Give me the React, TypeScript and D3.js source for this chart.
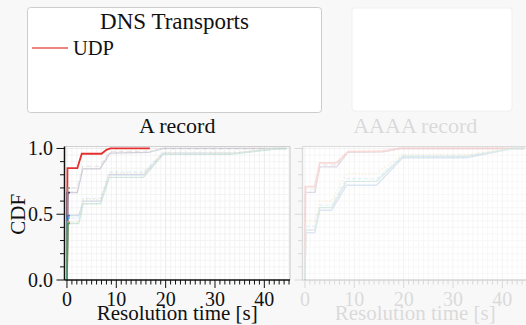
import React from "react";
import * as d3 from "d3";

type Pt = [number, number];

const W = 526;
const H = 325;

// A record — resolution time [s] vs CDF
const aUdp: Pt[] = [[0, 0], [0.1, 0.85], [2.1, 0.85], [3.0, 0.96], [7.0, 0.96], [8.0, 0.99], [8.8, 1], [16.8, 1]];
const aTcp: Pt[] = [[0, 0], [0.1, 0.665], [2.1, 0.665], [3.2, 0.845], [6.7, 0.845], [8.7, 0.965], [16.5, 0.97], [19.5, 1], [44.5, 1]];
const aTls: Pt[] = [[0, 0], [0.1, 0.7], [2.1, 0.7], [3.2, 0.865], [6.7, 0.865], [8.7, 0.975], [17, 0.98], [19.5, 1], [44.5, 1]];
const aDoh: Pt[] = [[0, 0], [0.1, 0.49], [2.4, 0.49], [3.3, 0.6], [6.8, 0.6], [8.6, 0.8], [15.5, 0.8], [19.5, 0.965], [34, 0.965], [42, 0.995], [44.5, 1]];
const aDoq: Pt[] = [[0, 0], [0.1, 0.47], [2.4, 0.47], [3.3, 0.62], [6.8, 0.62], [8.6, 0.82], [15.5, 0.82], [19.5, 0.97], [35, 0.97], [42, 1], [44.5, 1]];
const aDot: Pt[] = [[0, 0], [0.15, 0.43], [2.4, 0.43], [3.3, 0.58], [6.8, 0.58], [8.6, 0.78], [15.5, 0.78], [19.5, 0.955], [33, 0.955], [43, 1], [44.5, 1]];
const aH3: Pt[] = [[0, 0], [0.15, 0.44], [2.4, 0.44], [3.3, 0.61], [6.8, 0.61], [8.6, 0.81], [15.5, 0.81], [19.5, 0.97], [35, 0.97], [41, 1], [44.5, 1]];

// AAAA record
const bUdp: Pt[] = [[0, 0], [0.1, 0.71], [2.0, 0.71], [3.0, 0.89], [6.4, 0.89], [8.7, 0.976], [15.8, 0.98], [19.2, 1], [44.5, 1]];
const bTcp: Pt[] = [[0, 0], [0.1, 0.666], [2.0, 0.666], [3.0, 0.86], [6.4, 0.86], [8.7, 0.97], [15.8, 0.975], [19.5, 1], [44.5, 1]];
const bTls: Pt[] = [[0, 0], [0.1, 0.69], [2.0, 0.69], [3.0, 0.875], [6.4, 0.875], [8.7, 0.975], [16, 0.98], [19.5, 1], [44.5, 1]];
const bDoh: Pt[] = [[0, 0], [0.2, 0.36], [2.0, 0.36], [3.0, 0.53], [5.4, 0.53], [8.4, 0.72], [14.5, 0.72], [19.8, 0.93], [32.7, 0.93], [42, 1], [44.5, 1]];
const bDoq: Pt[] = [[0, 0], [0.2, 0.41], [2.0, 0.41], [3.0, 0.57], [5.4, 0.57], [8.4, 0.77], [14.5, 0.77], [19.8, 0.945], [32.7, 0.945], [42, 1], [44.5, 1]];
const bDot: Pt[] = [[0, 0], [0.2, 0.38], [2.0, 0.38], [3.0, 0.55], [5.4, 0.55], [8.4, 0.75], [14.5, 0.75], [19.8, 0.94], [32.7, 0.94], [42, 1], [44.5, 1]];
const bH3: Pt[] = [[0, 0], [0.2, 0.45], [2.0, 0.45], [3.0, 0.6], [5.4, 0.6], [8.4, 0.81], [14.5, 0.81], [19.8, 0.955], [33, 0.955], [41, 1], [44.5, 1]];

const xMajor = [0, 10, 20, 30, 40];
const yMajor = [0, 0.5, 1.0];
const yLabels = ["0.0", "0.5", "1.0"];
const legendItems = ["UDP"];

type Style = { color: string; dash?: string; width: number };
const sUdp: Style = { color: "#e3302c", width: 1.8 };
const sTcp: Style = { color: "#3f2a5e", width: 1.4 };
const sTls: Style = { color: "#8c8c8c", dash: "5,3", width: 1.2 };
const sDoh: Style = { color: "#3d72b5", width: 1.4 };
const sDoq: Style = { color: "#6cc0e8", dash: "4,2", width: 1.3 };
const sDot: Style = { color: "#3f9a78", width: 1.4 };
const sH3: Style = { color: "#f5a442", dash: "1.5,2", width: 1.4 };

const FONT = "'Liberation Serif', 'DejaVu Serif', serif";
const TOP = 146.5;
const BOTTOM = 280;
const PW = 225.5;

type Series = { pts: Pt[]; style: Style };

function Panel({ left, title, series, strong, faded, clipId, showYLabels }: {
  left: number; title: string; series: Series[]; strong: Series[]; faded: boolean;
  clipId: string; showYLabels: boolean;
}) {
  const x = d3.scaleLinear().domain([-0.5, 45.2]).range([left, left + PW]);
  const y = d3.scaleLinear().domain([0, 1.015]).range([BOTTOM, TOP]);
  const line = d3.line<Pt>().x((d) => x(d[0])).y((d) => y(d[1]));
  const xMinor = d3.range(0, 46, 1);
  const yMinor = d3.range(0, 1.01, 0.1);
  const yGrid = d3.range(0, 1.01, 0.05);
  const right = left + PW;
  const axisOpacity = faded ? 0.13 : 1;
  const curveOpacity = faded ? 0.17 : 0.22;

  return (
    <g>
      <defs>
        <clipPath id={clipId}>
          <rect x={left} y={TOP - 2} width={x(0.6) - left} height={BOTTOM - TOP + 4} />
        </clipPath>
        <clipPath id={clipId + "-all"}>
          <rect x={left} y={TOP - 2} width={PW} height={BOTTOM - TOP + 4} />
        </clipPath>
      </defs>
      <rect x={left} y={TOP} width={PW} height={BOTTOM - TOP} fill="#fff" />
      <g opacity={faded ? 0.6 : 1}>
        {xMinor.map((t) => (
          <line key={"gx" + t} x1={x(t)} x2={x(t)} y1={TOP} y2={BOTTOM}
            stroke={t % 10 === 0 ? "#e2e2e2" : "#efefef"} strokeWidth={0.7} />
        ))}
        {yGrid.map((t, i) => (
          <line key={"gy" + i} x1={left} x2={right} y1={y(t)} y2={y(t)}
            stroke={i % 10 === 0 ? "#e2e2e2" : "#efefef"} strokeWidth={0.7} />
        ))}
      </g>
      <g clipPath={`url(#${clipId}-all)`}>
        <g opacity={curveOpacity}>
          {series.map((s, i) => (
            <path key={"f" + i} d={line(s.pts) ?? ""} fill="none" stroke={s.style.color}
              strokeWidth={s.style.width} strokeDasharray={s.style.dash} />
          ))}
        </g>
        {strong.map((s, i) => (
          <path key={"u" + i} d={line(s.pts) ?? ""} fill="none" stroke={s.style.color}
            strokeWidth={s.style.width} />
        ))}
        {!faded && (
          <g clipPath={`url(#${clipId})`}>
            {series.map((s, i) => (
              <path key={"s" + i} d={line(s.pts) ?? ""} fill="none" stroke={s.style.color}
                strokeWidth={s.style.width + 0.4} />
            ))}
          </g>
        )}
      </g>
      <g opacity={axisOpacity} fontFamily={FONT} fill="#111">
        <line x1={left} x2={right} y1={TOP} y2={TOP} stroke={faded ? "#111" : "#cfcfcf"} strokeWidth={1.2} />
        <line x1={right} x2={right} y1={TOP} y2={BOTTOM} stroke={faded ? "#111" : "#cfcfcf"} strokeWidth={1.2} />
        <line x1={left} x2={left} y1={TOP} y2={BOTTOM} stroke="#111" strokeWidth={1.5} />
        <line x1={left} x2={right} y1={BOTTOM} y2={BOTTOM} stroke="#111" strokeWidth={1.5} />
        {xMinor.map((t) => (
          <line key={"tx" + t} x1={x(t)} x2={x(t)} y1={BOTTOM} y2={BOTTOM + (t % 10 === 0 ? 8 : 4.5)}
            stroke="#111" strokeWidth={1} />
        ))}
        {yMinor.map((t, i) => (
          <line key={"ty" + i} x1={left - (i % 5 === 0 ? 8 : 4.5)} x2={left} y1={y(t)} y2={y(t)}
            stroke="#111" strokeWidth={1} />
        ))}
        {xMajor.map((t) => (
          <text key={"lx" + t} x={x(t)} y={305.5} fontSize={20} textAnchor="middle">{t}</text>
        ))}
        {showYLabels && yMajor.map((t, i) => (
          <text key={"ly" + t} x={53} y={y(t) + 7} fontSize={20} textAnchor="end">{yLabels[i]}</text>
        ))}
        <text x={(left + right) / 2} y={133} fontSize={22} textAnchor="middle">{title}</text>
        <text x={(left + right) / 2} y={320} fontSize={21} textAnchor="middle">Resolution time [s]</text>
        {showYLabels && (
          <text transform={`translate(25,${y(0.5)}) rotate(-90)`} fontSize={21} textAnchor="middle">CDF</text>
        )}
      </g>
    </g>
  );
}

export default function App() {
  const aSeries: Series[] = [
    { pts: aTcp, style: sTcp },
    { pts: aTls, style: sTls },
    { pts: aDoq, style: sDoq },
    { pts: aDoh, style: sDoh },
    { pts: aH3, style: sH3 },
    { pts: aDot, style: sDot },
  ];
  const bSeries: Series[] = [
    { pts: bTcp, style: sTcp },
    { pts: bTls, style: sTls },
    { pts: bUdp, style: sUdp },
    { pts: bDoq, style: sDoq },
    { pts: bDoh, style: sDoh },
    { pts: bH3, style: sH3 },
    { pts: bDot, style: sDot },
  ];

  return (
    <svg width={W} height={H} style={{ position: "fixed", left: 0, top: 0 }}>
      <rect width={W} height={H} fill="#f8f8f8" />
      {/* legend */}
      <rect x={27.5} y={7.5} width={294} height={105} rx={3} fill="#fff" stroke="#cccccc" strokeWidth={1} />
      <text x={174.5} y={29} fontFamily={FONT} fontSize={23} textAnchor="middle" fill="#111">DNS Transports</text>
      {legendItems.map((name, i) => (
        <g key={name}>
          <line x1={32} x2={68} y1={48 + i * 22} y2={48 + i * 22} stroke={sUdp.color} strokeOpacity={0.6} strokeWidth={2} />
          <text x={73} y={55 + i * 22} fontFamily={FONT} fontSize={20.5} fill="#111">{name}</text>
        </g>
      ))}
      <rect x={352} y={8} width={160} height={103} rx={3} fill="#fff" stroke="#f0f0f0" strokeWidth={1} />

      <Panel left={64.5} title="A record" series={aSeries} strong={[{ pts: aUdp, style: sUdp }]}
        faded={false} clipId="clipA" showYLabels={true} />
      <Panel left={302.5} title="AAAA record" series={bSeries} strong={[]}
        faded={true} clipId="clipB" showYLabels={false} />
    </svg>
  );
}
